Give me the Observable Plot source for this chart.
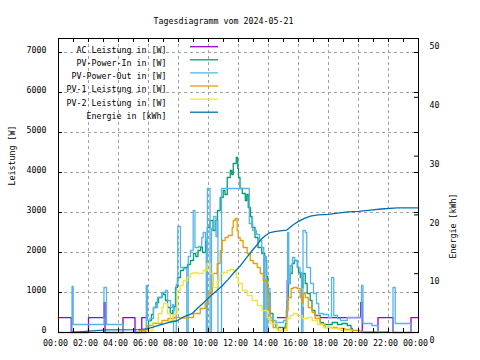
<!DOCTYPE html>
<html><head><meta charset="utf-8">
<script src="https://cdn.jsdelivr.net/npm/d3@7"></script>
<script src="https://cdn.jsdelivr.net/npm/@observablehq/plot@0.6"></script>
<style>body{margin:0;background:#fff;} #chart{width:480px;height:360px;}</style>
</head><body><div id="chart"></div>
<script>
const chartTitle = "Tagesdiagramm vom 2024-05-21";
const leftLabel = "Leistung [W]";
const rightLabel = "Energie [kWh]";
const seriesNames = ["AC Leistung in [W]", "PV-Power-In in [W]", "PV-Power-Out in [W]", "PV-1 Leistung in [W]", "PV-2 Leistung in [W]", "Energie in [kWh]"];
const seriesColors = ["#9400d3", "#009e73", "#56b4e9", "#e69f00", "#f0e442", "#0072b2"];
const xTicks = [0, 2, 4, 6, 8, 10, 12, 14, 16, 18, 20, 22, 24];
const xTickLabels = ["00:00","02:00","04:00","06:00","08:00","10:00","12:00","14:00","16:00","18:00","20:00","22:00","00:00"];
const leftTicks = [0, 1000, 2000, 3000, 4000, 5000, 6000, 7000];
const rightTicks = [0, 10, 20, 30, 40, 50];
const leftMax = 7350, rightMax = 50;

// AC Leistung (W)
const acHours = [0, 0.85, 2.0, 3.03, 3.1, 4.3, 5.1, 5.55, 5.93, 5.95, 14.6, 15.25, 15.26, 16.22, 16.3, 16.35, 17.5, 20.15, 20.25, 21.3, 22.3, 23.5, 24];
const acWatts = [370, 0, 370, 750, 0, 370, 0, 370, 370, null, 370, 1300, null, 625, 375, null, 370, 750, 0, 370, 0, 370, 370];

// PV-Power-In (W)
const inHours = [5.6,5.8,6.0,6.2,6.33,6.5,6.67,6.9,7.0,7.13,7.27,7.45,7.6,7.7,7.8,7.93,8.13,8.33,8.6,8.8,9.0,9.15,9.3,9.47,9.6,9.8,9.92,10.1,10.3,10.45,10.6,10.78,10.98,11.1,11.25,11.45,11.55,11.65,11.85,11.95,12.0,12.1,12.25,12.45,12.55,12.65,12.8,12.9,13.1,13.3,13.55,13.75,13.88,13.95,14.1,14.3,14.5,15.0,15.13,15.25,15.33,15.45,15.58,15.72,15.92,16.0,16.12,16.22,16.3,16.45,16.58,16.78,16.9,17.1,17.45,17.65,18.0,18.25,18.6,18.9,19.25,19.5,19.6];
const inWatts = [0,100,300,450,625,750,875,975,950,800,625,475,550,650,1125,1375,1550,1625,1700,1800,1975,1900,2050,2125,2000,2300,2625,2800,2550,2800,3050,3375,3550,3450,3875,4050,3950,4225,4375,4100,3875,3600,3475,3300,3450,3125,2900,2625,2375,2125,1975,1800,1400,975,475,225,125,125,225,800,1225,1475,1725,1800,1625,1500,1375,1125,1475,1225,975,800,550,425,250,200,200,250,200,225,175,100,0];

// PV-Power-Out (W)
const outHours = [0,0.9,0.98,3.03,3.2,4.3,5.85,5.93,6.1,6.33,6.6,6.93,7.13,7.27,7.47,7.6,7.67,7.85,7.95,8.13,8.33,8.55,8.65,8.8,8.98,9.1,9.35,9.55,9.65,9.8,9.85,9.93,10.1,10.2,10.35,10.5,10.6,10.63,10.87,12.72,12.95,13.2,13.4,13.55,13.68,13.75,13.85,13.95,14.1,14.25,14.5,15.0,15.27,15.35,15.45,15.6,15.75,15.95,16.1,16.2,16.3,16.45,16.55,16.8,17.0,17.2,17.35,17.65,18.0,18.2,18.35,18.6,18.8,19.25,20.2,20.3,20.9,21.3,22.3,22.45,23.5,24];
const outWatts = [0,1150,200,1125,200,0,1175,300,350,625,875,1000,1050,800,625,700,0,1200,2650,1625,1600,0,1900,2050,3050,2125,2150,2375,2500,2300,0,3600,0,2600,2900,2400,2800,0,3600,2725,2550,2450,2300,2125,0,1900,0,1100,375,300,250,300,2500,1225,1675,1875,1800,1625,1500,0,2550,2500,1625,1225,975,725,475,450,375,1375,425,350,300,375,1175,225,175,0,1125,225,0,0];

// PV-1 Leistung (W)
const pv1Hours = [5.2,5.4,5.9,6.3,6.9,7.3,7.7,8.1,8.6,9.0,9.45,9.78,9.98,10.25,10.31,10.58,10.78,10.91,11.11,11.31,11.58,11.65,11.78,11.91,11.98,12.11,12.31,12.58,12.78,12.98,13.25,13.45,13.65,13.91,13.98,14.11,14.31,14.65,14.98,15.18,15.31,15.51,15.65,15.91,16.11,16.25,16.31,16.45,16.65,16.91,17.11,17.45,17.78,18.25,18.58,19.1,19.6,20.1,21.2,21.95];
const pv1Watts = [0,50,175,225,300,350,375,360,375,475,600,725,975,1225,1475,1725,2050,2300,2375,2425,2625,2800,2850,2550,2375,2300,2125,1975,1800,1725,1625,1475,1300,975,625,300,125,50,100,550,875,1100,1125,1100,875,725,975,875,625,500,350,200,125,125,100,75,50,20,20,0];

// PV-2 Leistung (W)
const pv2Hours = [5.8,5.9,6.3,6.65,6.9,7.0,7.27,7.45,7.65,7.9,8.11,8.31,8.58,8.78,8.98,9.25,9.45,9.65,9.91,10.11,10.31,10.58,10.78,10.98,11.25,11.45,11.65,11.85,11.98,12.25,12.58,12.91,13.25,13.58,13.91,14.11,14.58,14.98,15.25,15.45,15.65,15.91,16.25,16.58,16.91,17.25,17.65,18.25,18.78,19.5];
const pv2Watts = [0,50,250,475,625,725,475,300,450,1050,1175,1300,1375,1475,1500,1475,1475,1550,1725,1475,1125,1300,1475,1500,1550,1575,1550,1375,1225,1050,925,800,675,550,375,225,50,50,350,425,475,425,350,375,300,200,125,100,50,0];

// Energie (kWh)
const enHours = [0.9,1.58,3.2,5.3,5.9,6.3,6.9,7.3,7.9,8.3,8.9,9.3,9.6,10.1,10.5,10.9,11.3,11.7,12.1,12.5,12.9,13.3,13.5,13.8,14.1,14.5,15.2,15.4,15.7,16.0,16.4,16.8,17.3,18.0,18.6,19.3,20.0,20.8,21.5,22.6,24];
const enKWh = [0.05,0.15,0.45,0.5,0.6,0.9,1.4,1.7,2.0,2.6,3.2,4.2,4.9,6.1,7.0,7.9,9.0,10.2,11.3,12.6,13.9,15.1,15.8,16.5,17.0,17.2,17.4,17.8,18.4,18.9,19.4,19.8,20.0,20.1,20.3,20.5,20.6,20.8,21.0,21.2,21.2];

const k = leftMax / rightMax;
const rows = (t, v, f = 1) => t.map((h, i) => ({h, v: v[i] == null ? null : v[i] * f}));

const gridColor = "#a0a0a0";
const tickLenX = 4 * 24 / 360;
const tickLenY = 4 * leftMax / 294;
const hours = d3.range(1, 24);

const stepLine = (data, color) => Plot.line(data, {x: "h", y: "v", stroke: color, strokeWidth: 1.3, curve: "step-after"});

const chart = Plot.plot({
  width: 480, height: 360,
  marginLeft: 58, marginRight: 62, marginTop: 38, marginBottom: 28,
  style: {fontFamily: "'DejaVu Sans Mono', monospace", fontSize: "8.3px", background: "white", color: "black"},
  x: {domain: [0, 24]},
  y: {domain: [0, leftMax]},
  marks: [
    Plot.ruleX(xTicks.slice(1, -1), {stroke: gridColor, strokeDasharray: "3,3"}),
    Plot.ruleY(leftTicks.slice(1), {stroke: gridColor, strokeDasharray: "3,3"}),
    stepLine(rows(acHours, acWatts), seriesColors[0]),
    stepLine(rows(inHours, inWatts), seriesColors[1]),
    stepLine(rows(outHours, outWatts), seriesColors[2]),
    stepLine(rows(pv1Hours, pv1Watts), seriesColors[3]),
    stepLine(rows(pv2Hours, pv2Watts), seriesColors[4]),
    Plot.line(rows(enHours, enKWh, k), {x: "h", y: "v", stroke: seriesColors[5], strokeWidth: 1.3, curve: "linear"}),
    Plot.frame({stroke: "black"}),
    Plot.ruleY(leftTicks, {x1: 0, x2: tickLenX, stroke: "black"}),
    Plot.ruleY(leftTicks, {x1: 24 - tickLenX, x2: 24, stroke: "black"}),
    Plot.ruleY(rightTicks.map(d => d * k), {x1: 24 - tickLenX, x2: 24, stroke: "black"}),
    Plot.ruleX(hours, {y1: 0, y2: tickLenY, stroke: "black"}),
    Plot.ruleX(hours, {y1: leftMax - tickLenY, y2: leftMax, stroke: "black"}),
    Plot.axisX({ticks: xTicks, tickFormat: d => xTickLabels[xTicks.indexOf(d)], tickSize: 0, tickPadding: 8, dx: -3, label: null}),
    Plot.axisY({ticks: leftTicks, tickSize: 0, tickPadding: 12, dy: -2, label: null, tickFormat: d => String(d)}),
    Plot.axisY({anchor: "right", ticks: rightTicks.map(d => d * k), tickFormat: d => String(Math.round(d / k)), tickSize: 0, tickPadding: 10, dx: 1, dy: 8, label: null}),
    Plot.text([chartTitle], {frameAnchor: "top", dx: -15, dy: -20}),
    Plot.text([leftLabel], {frameAnchor: "left", dx: -46, rotate: -90}),
    Plot.text([rightLabel], {frameAnchor: "right", dx: 35, dy: 8, rotate: -90}),
    ...seriesNames.map((name, i) => Plot.text([name], {frameAnchor: "top-left", dx: 108, dy: 8.7 + 13.1 * i, textAnchor: "end"}))
  ]
});

// legend line samples
const svg = d3.select(chart);
seriesNames.forEach((name, i) => {
  const y = 38 + 8.7 + 13.1 * i;
  svg.append("line").attr("x1", 190).attr("x2", 218).attr("y1", y).attr("y2", y)
    .attr("stroke", seriesColors[i]).attr("stroke-width", 1.3);
});
document.getElementById("chart").appendChild(chart);
</script>
</body></html>
